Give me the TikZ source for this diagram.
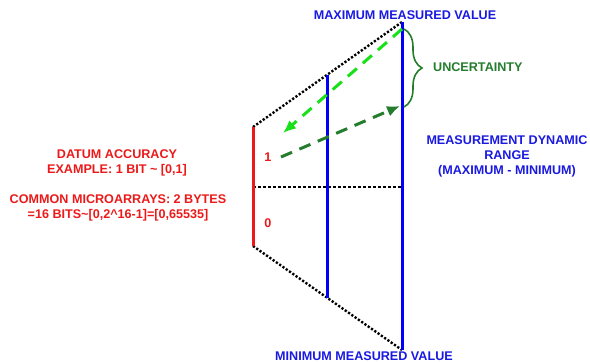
\documentclass[tikz,border=0pt]{standalone}
\usepackage{fontspec}
\setmainfont{Liberation Sans}
\usetikzlibrary{calc}
\usetikzlibrary{arrows.meta}
\usetikzlibrary{decorations.pathreplacing}

\definecolor{barblue}{RGB}{0,0,250}
\definecolor{textblue}{RGB}{25,25,225}
\definecolor{accred}{RGB}{235,25,25}
\definecolor{litegreen}{RGB}{25,225,25}
\definecolor{darkgreen}{RGB}{35,125,45}

\begin{document}
\begin{tikzpicture}[
x=1pt, y=-1pt,
caption/.style={
  font=\fontsize{12.6}{15}\selectfont\bfseries,
  align=center,
  inner sep=0pt},
bar/.style={
  line width=3pt},
edgeline/.style={
  line width=2.4pt,
  dash pattern=on 2.2pt off 1.8pt},
gap/.style={
  line width=1.5pt,
  dash pattern=on 3pt off 2pt},
errarrow/.style={
  line width=3pt,
  dash pattern=on 12pt off 8pt,
  -{Latex[length=13pt,width=11pt]}}
]
\useasboundingbox (0,0) rectangle (590,362);
% frame of the scale
\coordinate (RT) at (253,127);
\coordinate (RB) at (253,246);
\coordinate (MT) at ($ (RT)!.5!(402,22) $);
\coordinate (MB) at ($ (RB)!.5!(402,350) $);
\coordinate (XT) at (402,22);
\coordinate (XB) at (402,350);
\coordinate (RM) at (253,187);
\coordinate (XM) at (402,187);
\draw[edgeline] (RT) -- (XT);
\draw[edgeline] (RB) -- (XB);
\draw[gap] (RM) -- (XM);
\draw[bar,accred] (RT) -- (RB);
\draw[bar,barblue] (MT) -- (MB);
\draw[bar,barblue] (XT) -- (XB);
% uncertainty
\coordinate (UA) at (402,29);
\coordinate (UB) at (400,106);
\coordinate (TipA) at (283,133);
\coordinate (TailB) at (281,157);
\draw[errarrow,litegreen] (UA) -- (TipA);
\draw[errarrow,darkgreen] (TailB) -- (UB);
\draw[darkgreen,line width=1.6pt,decorate,
  decoration={brace,amplitude=18pt}] (404,29) -- (404,107);
% labels
\node[caption,textblue] (maxval) at (405,15) {MAXIMUM MEASURED VALUE};
\node[caption,textblue] (minval) at (364,356) {MINIMUM MEASURED VALUE};
\node[caption,darkgreen,anchor=west] (uncert) at (433,67) {UNCERTAINTY};
\node[caption,textblue] (range) at (507,156)
  {MEASUREMENT DYNAMIC\\RANGE\\(MAXIMUM - MINIMUM)};
\node[caption,accred] (datum) at (117,163)
  {DATUM ACCURACY\\EXAMPLE: 1 BIT \textasciitilde{} [0,1]};
\node[caption,accred] (micro) at (118,208)
  {COMMON MICROARRAYS: 2 BYTES\\=16 BITS\textasciitilde[0,2\textasciicircum16-1]=[0,65535]};
\node[caption,accred] (one) at (268,157) {1};
\node[caption,accred] (zero) at (268,223) {0};
\end{tikzpicture}
\end{document}
